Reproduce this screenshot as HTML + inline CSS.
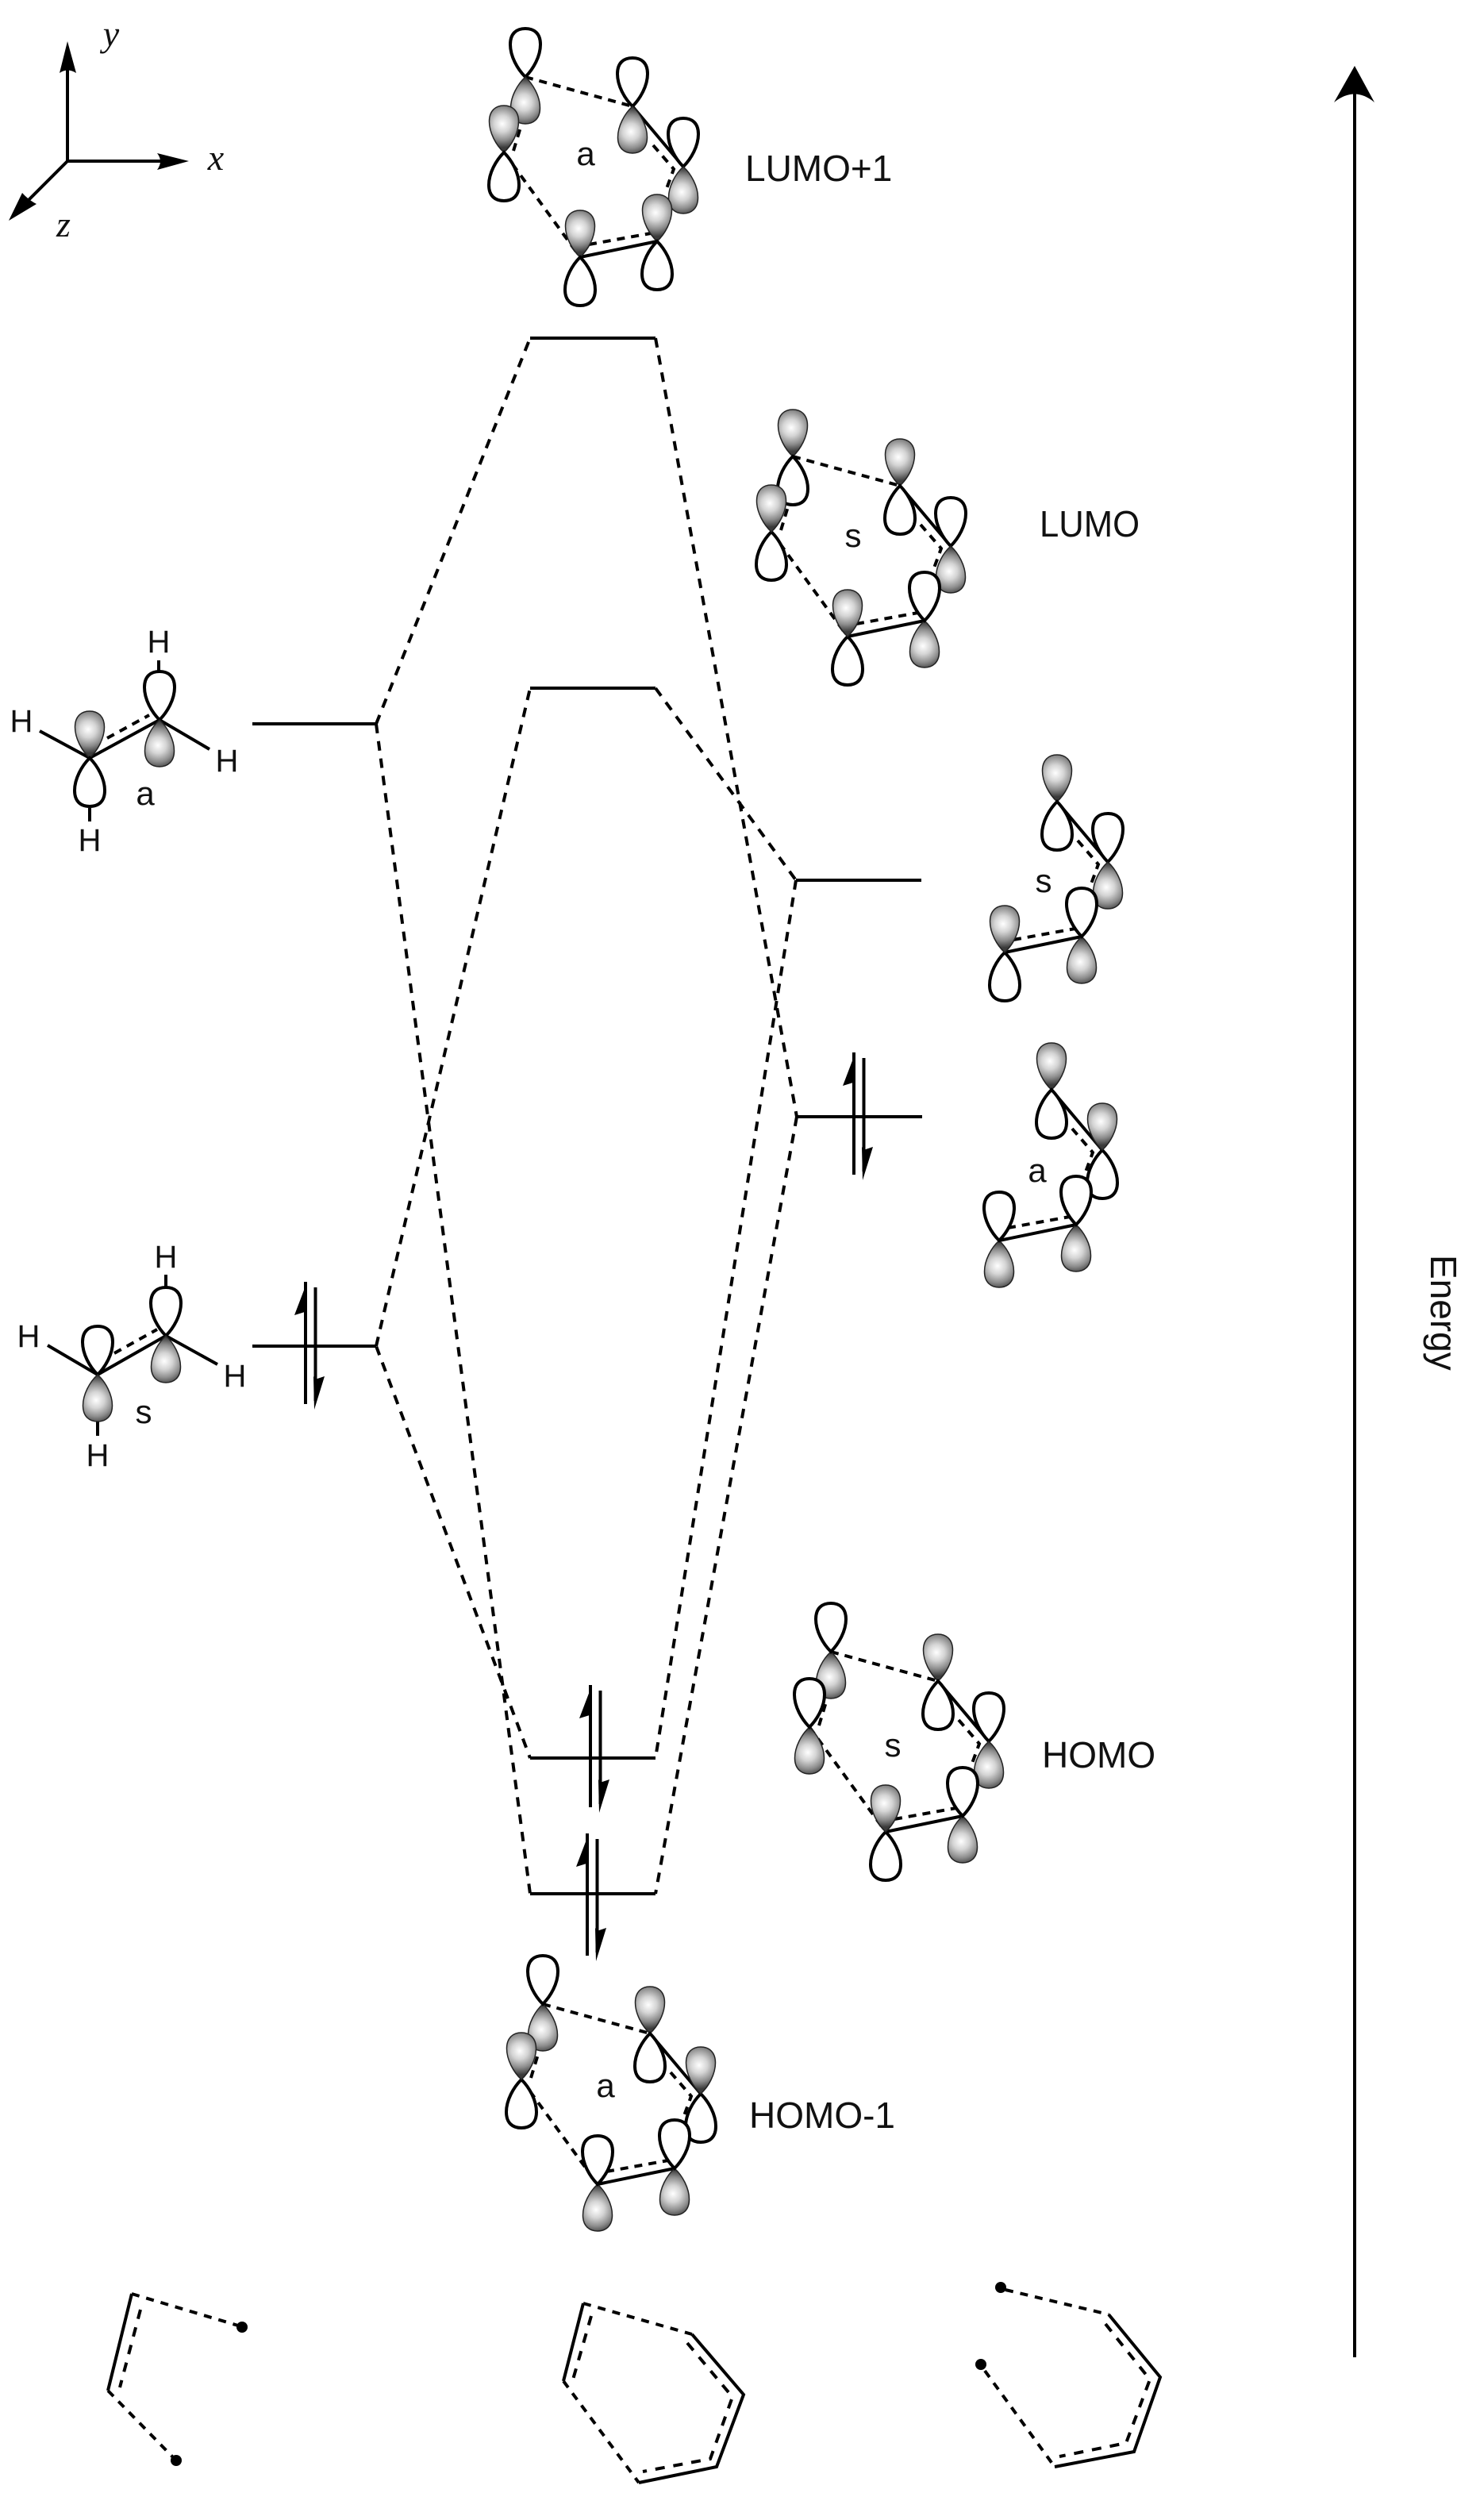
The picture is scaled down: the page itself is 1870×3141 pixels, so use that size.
<!DOCTYPE html>
<html><head><meta charset="utf-8"><style>html,body{margin:0;padding:0;background:#fff}svg{display:block}
.t{font-family:"Liberation Sans",sans-serif;font-size:46px;fill:#111}
.h{font-family:"Liberation Sans",sans-serif;font-size:40px;fill:#111;text-anchor:middle}
.l{font-family:"Liberation Sans",sans-serif;font-size:42px;fill:#111;text-anchor:middle}
.i{font-family:"Liberation Serif",serif;font-style:italic;font-size:46px;fill:#111;text-anchor:middle}
</style></head><body>
<svg width="1870" height="3141" viewBox="0 0 1870 3141" xmlns="http://www.w3.org/2000/svg">
<defs>
<radialGradient id="gup" gradientUnits="userSpaceOnUse" cx="-2" cy="-36" r="30"><stop offset="0" stop-color="#fff"/><stop offset=".35" stop-color="#d4d4d4"/><stop offset=".7" stop-color="#8c8c8c"/><stop offset="1" stop-color="#3a3a3a"/></radialGradient>
<radialGradient id="gdn" gradientUnits="userSpaceOnUse" cx="-2" cy="32" r="30"><stop offset="0" stop-color="#fff"/><stop offset=".35" stop-color="#d4d4d4"/><stop offset=".7" stop-color="#8c8c8c"/><stop offset="1" stop-color="#3a3a3a"/></radialGradient>
<path id="wu" d="M0 0C-10-10-19-26-19-41C-19-55-11-61 0-61C11-61 19-55 19-41C19-26 10-10 0 0Z" fill="#fff" stroke="#000" stroke-width="4"/>
<path id="wd" d="M0 0C-10 10-19 26-19 41C-19 55-11 61 0 61C11 61 19 55 19 41C19 26 10 10 0 0Z" fill="#fff" stroke="#000" stroke-width="4"/>
<path id="gu" d="M0 0C-10-9-18.500-25-18.500-39C-18.500-53-10-59 0-59C10-59 18.500-53 18.500-39C18.500-25 10-9 0 0Z" fill="url(#gup)" stroke="#222" stroke-width="1.500"/>
<path id="gd" d="M0 0C-10 9-18.500 25-18.500 39C-18.500 53-10 59 0 59C10 59 18.500 53 18.500 39C18.500 25 10 9 0 0Z" fill="url(#gdn)" stroke="#222" stroke-width="1.500"/>
<g id="frag" fill="none" stroke="#000">
<path d="M135 37L199 113M69 227L166 207" stroke-width="4"/>
<path d="M161 86L187 116L176 146M80 211L158 197" stroke-width="4" stroke-dasharray="10 8"/>
</g>
<g id="ring" fill="none" stroke="#000">
<use href="#frag"/>
<path d="M0 0L135 37M-27 95L69 227M-15 93L-5 60" stroke-width="4" stroke-dasharray="10 8"/>
</g>
<g id="ep">
<path d="M0 0V154" stroke="#000" stroke-width="4" fill="none"/>
<path d="M12.500 7V150" stroke="#000" stroke-width="4" fill="none"/>
<path d="M2 0L-14 42L-1 38L2 42Z" fill="#000"/>
<path d="M11 161L24 119L12 123L10 119Z" fill="#000"/>
</g>
</defs>

<!-- axes -->
<g stroke="#000" fill="none"><path d="M85 203V80M85 203H210" stroke-width="4"/><path d="M85 203L30 258" stroke-width="4"/></g>
<path d="M85 52L96 92Q85 85 75 92Z" fill="#000"/>
<path d="M238 203L198 214Q206 203 198 193Z" fill="#000"/>
<path d="M11 278L28 243Q36 252 46 257Z" fill="#000"/>
<text class="i" x="140" y="58">y</text><text class="i" x="272" y="214">x</text><text class="i" x="80" y="298">z</text>

<!-- energy -->
<path d="M1707 110V2970" stroke="#000" stroke-width="4"/>
<path d="M1707 83L1732 129Q1707 108 1681 129Z" fill="#000"/>
<text class="t" transform="translate(1803,1581) rotate(90)">Energy</text>

<!-- levels -->
<g stroke="#000" stroke-width="4" fill="none">
<path d="M318 912H474M318 1696H474M668 426H826M668 867H826M668 2215H826M668 2386H826M1003 1109H1161M1004 1407H1162"/>
</g>
<g stroke="#000" stroke-width="4" fill="none" stroke-dasharray="12 10">
<path d="M474 912L668 426M474 912L668 2386M474 1696L668 867M474 1696L668 2215M826 426L1004 1407M826 867L1003 1109M1003 1109L826 2215M1004 1407L826 2386"/>
</g>
<use href="#ep" x="385" y="1615"/><use href="#ep" x="1076" y="1326"/><use href="#ep" x="744" y="2123"/><use href="#ep" x="740" y="2310"/>

<!-- LUMO+1 -->
<g transform="translate(662,97)"><use href="#ring"/>
<use href="#wu"/><use href="#gd"/>
<use href="#wu" x="135" y="37"/><use href="#gd" x="135" y="37"/>
<use href="#wu" x="199" y="113"/><use href="#gd" x="199" y="113"/>
<use href="#gu" x="166" y="207"/><use href="#wd" x="166" y="207"/>
<use href="#gu" x="69" y="227"/><use href="#wd" x="69" y="227"/>
<use href="#gu" x="-27" y="95"/><use href="#wd" x="-27" y="95"/></g>
<text class="l" x="738" y="208">a</text><text class="t" x="939" y="228">LUMO+1</text>

<!-- LUMO -->
<g transform="translate(999,575)"><use href="#ring"/>
<use href="#gu"/><use href="#wd"/>
<use href="#gu" x="135" y="37"/><use href="#wd" x="135" y="37"/>
<use href="#wu" x="199" y="113"/><use href="#gd" x="199" y="113"/>
<use href="#gd" x="166" y="207"/><use href="#wu" x="166" y="207"/>
<use href="#wd" x="69" y="227"/><use href="#gu" x="69" y="227"/>
<use href="#wd" x="-27" y="95"/><use href="#gu" x="-27" y="95"/></g>
<text class="l" x="1075" y="689">s</text><text class="t" x="1310" y="676" textLength="126" lengthAdjust="spacingAndGlyphs">LUMO</text>

<!-- HOMO -->
<g transform="translate(1047,2081)"><use href="#ring"/>
<use href="#gd"/><use href="#wu"/>
<use href="#gu" x="135" y="37"/><use href="#wd" x="135" y="37"/>
<use href="#wu" x="199" y="113"/><use href="#gd" x="199" y="113"/>
<use href="#gd" x="166" y="207"/><use href="#wu" x="166" y="207"/>
<use href="#wd" x="69" y="227"/><use href="#gu" x="69" y="227"/>
<use href="#gd" x="-27" y="95"/><use href="#wu" x="-27" y="95"/></g>
<text class="l" x="1125" y="2213">s</text><text class="t" x="1313" y="2227">HOMO</text>

<!-- HOMO-1 -->
<g transform="translate(684,2525)"><use href="#ring"/>
<use href="#gd"/><use href="#wu"/>
<use href="#gu" x="135" y="37"/><use href="#wd" x="135" y="37"/>
<use href="#wd" x="199" y="113"/><use href="#gu" x="199" y="113"/>
<use href="#gd" x="166" y="207"/><use href="#wu" x="166" y="207"/>
<use href="#gd" x="69" y="227"/><use href="#wu" x="69" y="227"/>
<use href="#wd" x="-27" y="95"/><use href="#gu" x="-27" y="95"/></g>
<text class="l" x="763" y="2642">a</text><text class="t" x="944" y="2681">HOMO-1</text>

<!-- butadiene s -->
<g transform="translate(1197,973)"><use href="#frag"/>
<use href="#gu" x="135" y="37"/><use href="#wd" x="135" y="37"/>
<use href="#wu" x="199" y="113"/><use href="#gd" x="199" y="113"/>
<use href="#gd" x="166" y="207"/><use href="#wu" x="166" y="207"/>
<use href="#wd" x="69" y="227"/><use href="#gu" x="69" y="227"/></g>
<text class="l" x="1315" y="1124">s</text>

<!-- butadiene a -->
<g transform="translate(1190,1336)"><use href="#frag"/>
<use href="#gu" x="135" y="37"/><use href="#wd" x="135" y="37"/>
<use href="#wd" x="199" y="113"/><use href="#gu" x="199" y="113"/>
<use href="#gd" x="166" y="207"/><use href="#wu" x="166" y="207"/>
<use href="#gd" x="69" y="227"/><use href="#wu" x="69" y="227"/></g>
<text class="l" x="1307" y="1489">a</text>

<!-- ethylene a -->
<g fill="none" stroke="#000" stroke-width="4">
<path d="M50 921L113 955L201 907L264 944M200 832V848M113 1018V1035"/>
<path d="M135 930L188 901" stroke-dasharray="10 8"/></g>
<use href="#gu" x="113" y="955"/><use href="#wd" x="113" y="955"/>
<use href="#wu" x="201" y="907"/><use href="#gd" x="201" y="907"/>
<text class="h" x="27" y="922">H</text><text class="h" x="200" y="822">H</text><text class="h" x="286" y="972">H</text><text class="h" x="113" y="1072">H</text>
<text class="l" x="183" y="1014">a</text>

<!-- ethylene s -->
<g fill="none" stroke="#000" stroke-width="4">
<path d="M60 1695L123 1732L209 1683L274 1719M209 1606V1622M123 1790V1809"/>
<path d="M144 1705L198 1675" stroke-dasharray="10 8"/></g>
<use href="#wu" x="123" y="1732"/><use href="#gd" x="123" y="1732"/>
<use href="#wu" x="209" y="1683"/><use href="#gd" x="209" y="1683"/>
<text class="h" x="36" y="1697">H</text><text class="h" x="209" y="1597">H</text><text class="h" x="296" y="1747">H</text><text class="h" x="123" y="1847">H</text>
<text class="l" x="181" y="1793">s</text>

<!-- skeletons -->
<g fill="none" stroke="#000" stroke-width="4">
<path d="M166 2890L136 3012"/>
<path d="M166 2890L300 2930M136 3012L218 3096" stroke-dasharray="10 9"/>
<path d="M177 2910L151 3008" stroke-dasharray="12 11"/>
<path d="M710 3000L735 2902M872 2941L937 3017L903 3108L805 3128"/>
<path d="M735 2902L872 2941M710 3000L805 3128" stroke-dasharray="10 9"/>
<path d="M745 2918L722 2998M866 2952L923 3020L895 3098L810 3114" stroke-dasharray="12 11"/>
<path d="M1397 2916L1462 2995L1429 3089L1329 3108"/>
<path d="M1267 2885L1397 2916M1241 2987L1329 3108" stroke-dasharray="10 9"/>
<path d="M1393 2928L1449 2998L1419 3078L1335 3095" stroke-dasharray="12 11"/>
</g>
<circle cx="305" cy="2932" r="7" fill="#000"/><circle cx="222" cy="3100" r="7" fill="#000"/>
<circle cx="1261" cy="2882" r="7" fill="#000"/><circle cx="1236" cy="2979" r="7" fill="#000"/>
</svg>
</body></html>
